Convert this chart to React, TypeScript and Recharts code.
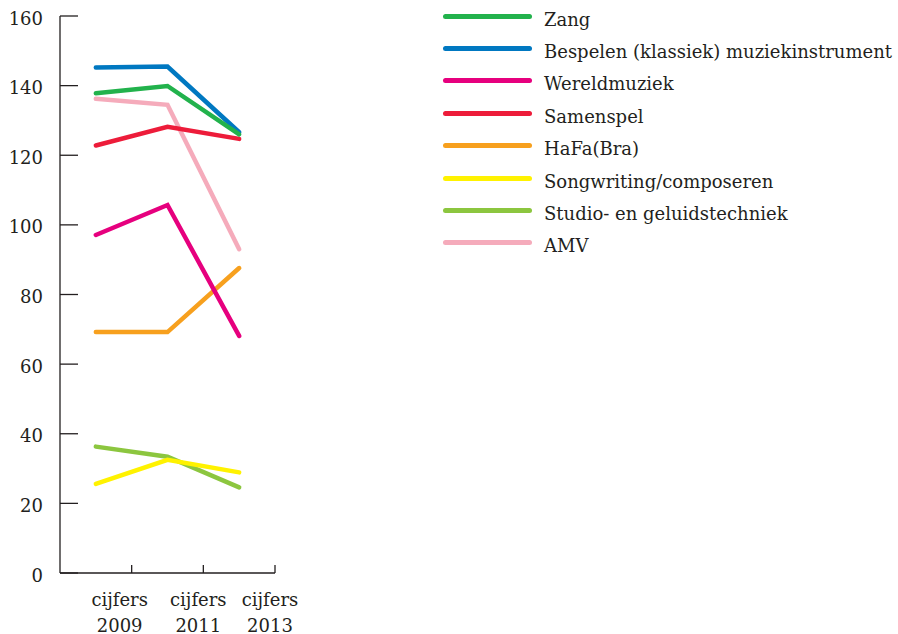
import * as React from "react";
import { LineChart, Line, XAxis, YAxis } from "recharts";

// Leerlingenaantallen per cursussoort, cijfers 2009 / 2011 / 2013
const JAREN = ["cijfers 2009", "cijfers 2011", "cijfers 2013"];

const ZANG = [137.8, 139.9, 126.0];
const BESPELEN = [145.2, 145.5, 126.6];
const WERELDMUZIEK = [97.1, 105.7, 68.1];
const SAMENSPEL = [122.8, 128.2, 124.7];
const HAFA = [69.2, 69.2, 87.6];
const SONGWRITING = [25.6, 32.5, 28.9];
const STUDIO = [36.3, 33.4, 24.6];
const AMV = [136.2, 134.5, 93.0];

const Y_TICKS = [0, 20, 40, 60, 80, 100, 120, 140, 160];

const SERIES = [
  { key: "zang", naam: "Zang", waarden: ZANG, kleur: "#22b24c" },
  { key: "bespelen", naam: "Bespelen (klassiek) muziekinstrument", waarden: BESPELEN, kleur: "#0078c1" },
  { key: "wereld", naam: "Wereldmuziek", waarden: WERELDMUZIEK, kleur: "#e6007e" },
  { key: "samenspel", naam: "Samenspel", waarden: SAMENSPEL, kleur: "#ed1c3a" },
  { key: "hafa", naam: "HaFa(Bra)", waarden: HAFA, kleur: "#f7a01e" },
  { key: "songwriting", naam: "Songwriting/composeren", waarden: SONGWRITING, kleur: "#fff200" },
  { key: "studio", naam: "Studio- en geluidstechniek", waarden: STUDIO, kleur: "#8cc63f" },
  { key: "amv", naam: "AMV", waarden: AMV, kleur: "#f5abbb" },
];

const FONT = '"DejaVu Serif", "Liberation Serif", serif';
const TEKST = "#231f20";

// x = i + 0.5 zodat punten midden tussen de streepjes van de x-as vallen
const data = JAREN.map((jaar, i) => {
  const rij: Record<string, number | string> = { jaar, x: i + 0.5 };
  SERIES.forEach((s) => (rij[s.key] = s.waarden[i]));
  return rij;
});

// labels staan in het origineel iets links van de streepjes
const LABEL_DX = [-12, -5, -5];

function YTick({ x, y, payload }: any) {
  return (
    <g>
      <line x1={x + 17} x2={x + 35} y1={y} y2={y} stroke={TEKST} strokeWidth={1.3} />
      <text x={x} y={y + 8.5} textAnchor="end" fontFamily={FONT} fontSize={18} fill={TEKST}>
        {payload.value}
      </text>
    </g>
  );
}

function XTick({ x, y, payload }: any) {
  const idx = Math.round(payload.value) - 1;
  const [woord, jaar] = (JAREN[idx] ?? "").split(" ");
  const lx = x + (LABEL_DX[idx] ?? 0);
  return (
    <g>
      <line x1={x} x2={x} y1={y - 8} y2={y} stroke={TEKST} strokeWidth={1.3} />
      <text x={lx} textAnchor="middle" fontFamily={FONT} fontSize={18} fill={TEKST}>
        <tspan x={lx} y={y + 33}>{woord}</tspan>
        <tspan x={lx} y={y + 58.5}>{jaar}</tspan>
      </text>
    </g>
  );
}

function Legenda() {
  return (
    <div style={{ position: "absolute", left: 0, top: 0, fontFamily: FONT, fontSize: 18, color: TEKST }}>
      {SERIES.map((s, i) => (
        <React.Fragment key={s.key}>
          <div
            style={{
              position: "absolute",
              left: 443,
              top: 16 + 32.4 * i - 2.5,
              width: 89,
              height: 5,
              borderRadius: 3,
              background: s.kleur,
            }}
          />
          <div
            style={{
              position: "absolute",
              left: 544,
              top: 10.5 + 32.4 * i,
              lineHeight: "18px",
              whiteSpace: "nowrap",
            }}
          >
            {s.naam}
          </div>
        </React.Fragment>
      ))}
    </div>
  );
}

export default function App() {
  // volgorde van tekenen omgekeerd t.o.v. de legenda (geel over groen, enz.)
  const tekenVolgorde = [...SERIES].reverse();
  return (
    <div style={{ position: "absolute", left: 0, top: 0, width: 898, height: 634, background: "#fff" }}>
      <LineChart width={898} height={634} data={data} margin={{ top: 16, right: 623, bottom: 0, left: 0 }}>
        <XAxis
          type="number"
          dataKey="x"
          domain={[0, 3]}
          ticks={[1, 2, 3]}
          height={61}
          tickLine={false}
          tickSize={0}
          tickMargin={0}
          axisLine={{ stroke: TEKST, strokeWidth: 1.3 }}
          tick={<XTick />}
          interval={0}
        />
        <YAxis
          domain={[0, 160]}
          ticks={Y_TICKS}
          width={60}
          tickLine={false}
          tickSize={0}
          tickMargin={17}
          axisLine={{ stroke: TEKST, strokeWidth: 1.3 }}
          tick={<YTick />}
          interval={0}
        />
        {tekenVolgorde.map((s) => (
          <Line
            key={s.key}
            type="linear"
            dataKey={s.key}
            name={s.naam}
            stroke={s.kleur}
            strokeWidth={4.5}
            strokeLinecap="round"
            dot={false}
            activeDot={false}
            isAnimationActive={false}
          />
        ))}
      </LineChart>
      <Legenda />
    </div>
  );
}
